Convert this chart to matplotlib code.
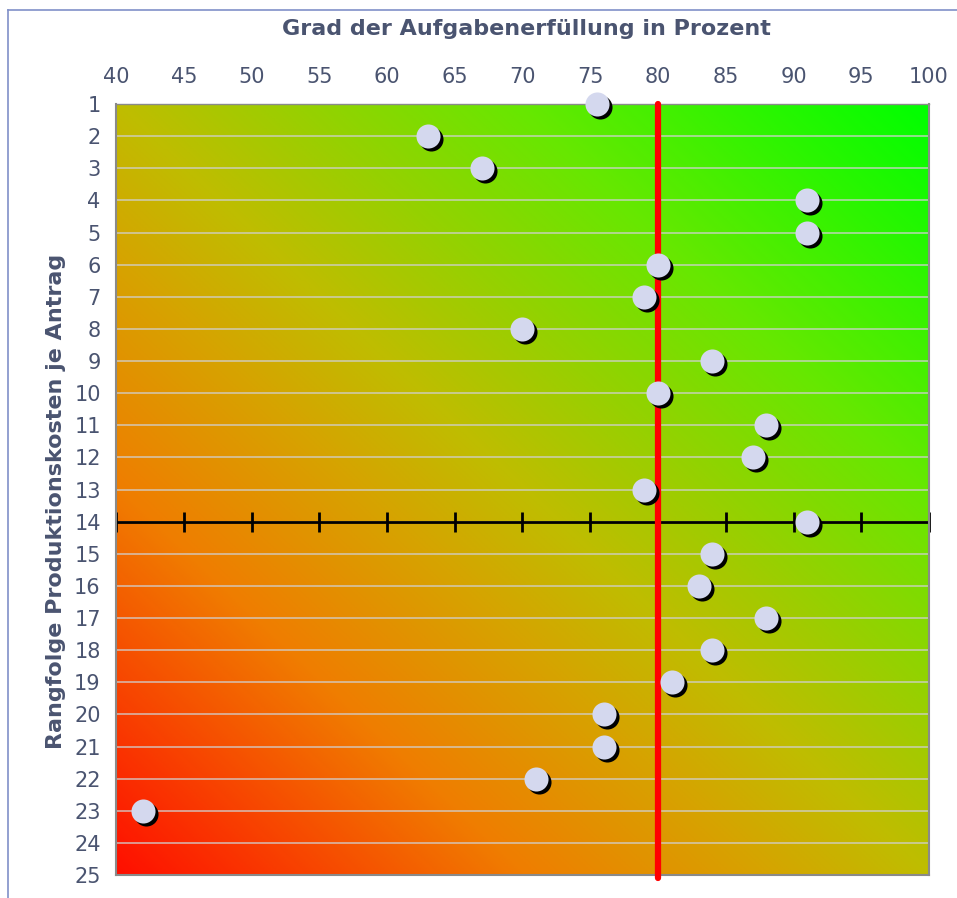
import numpy as np
import matplotlib.pyplot as plt
from matplotlib.colors import LinearSegmentedColormap
from matplotlib.transforms import offset_copy
from matplotlib.lines import Line2D

# Rang (Produktionskosten) und Grad der Aufgabenerfüllung
rang = [1, 2, 3, 4, 5, 6, 7, 8, 9, 10, 11, 12, 13, 14, 15, 16, 17, 18, 19, 20, 21, 22, 23]
erfuellung = [75.5, 63, 67, 91, 91, 80, 79, 70, 84, 80, 88, 87, 79, 91, 84, 83, 88, 84, 81, 76, 76, 71, 42]

x_ticks = list(range(40, 101, 5))
y_ticks = list(range(1, 26))
soll = 80        # Zielwert Aufgabenerfüllung
mitte_rang = 14  # Achsenkreuz

txt = '#4a5470'

fig = plt.figure(figsize=(9.57, 8.98), dpi=100)
ax = fig.add_axes([116/957, 1 - 875/898, (929 - 116)/957, (875 - 104)/898])

# Hintergrund: diagonaler Verlauf rot -> gelb -> grün
cmap = LinearSegmentedColormap.from_list('ampel', [
    (0.0, (1.0, 0.06, 0.0)),
    (0.25, (0.94, 0.49, 0.0)),
    (0.4, (0.84, 0.64, 0.0)),
    (0.5, (0.75, 0.74, 0.0)),
    (0.75, (0.40, 0.91, 0.0)),
    (1.0, (0.0, 1.0, 0.0)),
])
gx, gy = np.meshgrid(np.linspace(0, 1, 300), np.linspace(0, 1, 300))
grad = (gx + gy) / 2
ax.imshow(grad, cmap=cmap, extent=[40, 100, 25, 1], origin='lower',
          aspect='auto', zorder=0, interpolation='bilinear')

ax.set_xlim(40, 100)
ax.set_ylim(25, 1)

for y in y_ticks[1:-1]:
    ax.axhline(y, color='#d0d0d0', lw=1.2, alpha=0.8, zorder=1)

# Achsenkreuz bei Rang 14 mit Teilstrichen
ax.axhline(mitte_rang, color='black', lw=2, zorder=2)
ax.plot(x_ticks, [mitte_rang] * len(x_ticks), ls='none', marker='|',
        ms=14, mew=2, color='black', zorder=2, clip_on=False)

# Zielwert
ax.plot([soll, soll], [1, 25.1], color='red', lw=4.5, zorder=3,
        clip_on=False, solid_capstyle='round')

# Punkte mit Schatten
shadow = offset_copy(ax.transData, fig=fig, x=3, y=-3, units='dots')
ax.scatter(erfuellung, rang, s=300, color='black', lw=0, transform=shadow, zorder=4, clip_on=False)
ax.scatter(erfuellung, rang, s=300, color='#d4d8ee', lw=0, zorder=5, clip_on=False)

ax.xaxis.tick_top()
ax.xaxis.set_label_position('top')
ax.set_xticks(x_ticks)
ax.set_yticks(y_ticks)
ax.tick_params(length=0, labelsize=15, colors=txt)
ax.tick_params(axis='x', pad=12)
ax.tick_params(axis='y', pad=11)
ax.set_xlabel('Grad der Aufgabenerfüllung in Prozent', fontsize=16,
              fontweight='bold', color=txt)
ax.set_ylabel('Rangfolge Produktionskosten je Antrag', fontsize=16,
              fontweight='bold', color=txt)
ax.xaxis.set_label_coords(0.505, 1.09)
ax.yaxis.set_label_coords(-0.062, 0.485)

for s in ax.spines.values():
    s.set_color('#8a8a8a')
    s.set_linewidth(1.5)
ax.spines['top'].set_linewidth(1)

# Rahmen des Diagramms
fig.add_artist(Line2D([8/957, 8/957], [0, 1 - 10/898], color='#8090c8', lw=1.2))
fig.add_artist(Line2D([8/957, 1], [1 - 10/898, 1 - 10/898], color='#8090c8', lw=1.2))

fig.savefig('out.png', dpi=100)
